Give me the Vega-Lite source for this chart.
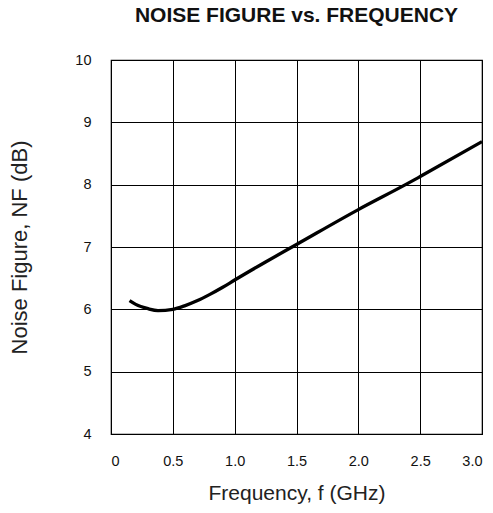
{
  "$schema": "https://vega.github.io/schema/vega-lite/v6.json",
  "width": 371,
  "height": 374,
  "autosize": {"type": "none"},
  "padding": {"left": 111, "top": 60, "right": 11, "bottom": 79},
  "background": "white",
  "title": {
    "text": "NOISE FIGURE vs. FREQUENCY",
    "font": "Liberation Sans",
    "fontSize": 21,
    "fontWeight": "bold",
    "color": "#111",
    "anchor": "middle",
    "offset": 26
  },
  "config": {
    "view": {"stroke": "black", "strokeWidth": 1.2},
    "axis": {
      "labelFont": "Liberation Sans",
      "titleFont": "Liberation Sans",
      "labelFontSize": 14.5,
      "titleFontWeight": "normal",
      "labelColor": "#111",
      "titleColor": "#222",
      "grid": true,
      "gridColor": "black",
      "gridOpacity": 1,
      "gridWidth": 1,
      "domainColor": "black",
      "ticks": false
    }
  },
  "data": {
    "values": [
      {"f": 0.15, "nf": 6.14},
      {"f": 0.2, "nf": 6.08},
      {"f": 0.3, "nf": 6.01},
      {"f": 0.38, "nf": 5.98},
      {"f": 0.5, "nf": 6.0},
      {"f": 0.6, "nf": 6.06},
      {"f": 0.7, "nf": 6.14},
      {"f": 0.8, "nf": 6.24},
      {"f": 0.9, "nf": 6.35},
      {"f": 1.0, "nf": 6.47},
      {"f": 1.25, "nf": 6.76},
      {"f": 1.5, "nf": 7.04},
      {"f": 2.0, "nf": 7.6},
      {"f": 2.4, "nf": 8.02},
      {"f": 2.5, "nf": 8.13},
      {"f": 3.0, "nf": 8.69}
    ]
  },
  "mark": {"type": "line", "interpolate": "monotone", "color": "black", "strokeWidth": 3.3},
  "encoding": {
    "x": {
      "field": "f",
      "type": "quantitative",
      "scale": {"domain": [0, 3], "nice": false},
      "axis": {
        "values": [0, 0.5, 1, 1.5, 2, 2.5, 3],
        "labelExpr": "datum.value == 0 ? '0' : format(datum.value, '.1f')",
        "labelPadding": 20,
        "title": "Frequency, f (GHz)",
        "titleFontSize": 21,
        "titlePadding": 15
      }
    },
    "y": {
      "field": "nf",
      "type": "quantitative",
      "scale": {"domain": [4, 10], "nice": false, "zero": false},
      "axis": {
        "values": [4, 5, 6, 7, 8, 9, 10],
        "labelPadding": 20,
        "title": "Noise Figure, NF (dB)",
        "titleFontSize": 22,
        "titlePadding": 43
      }
    }
  }
}
